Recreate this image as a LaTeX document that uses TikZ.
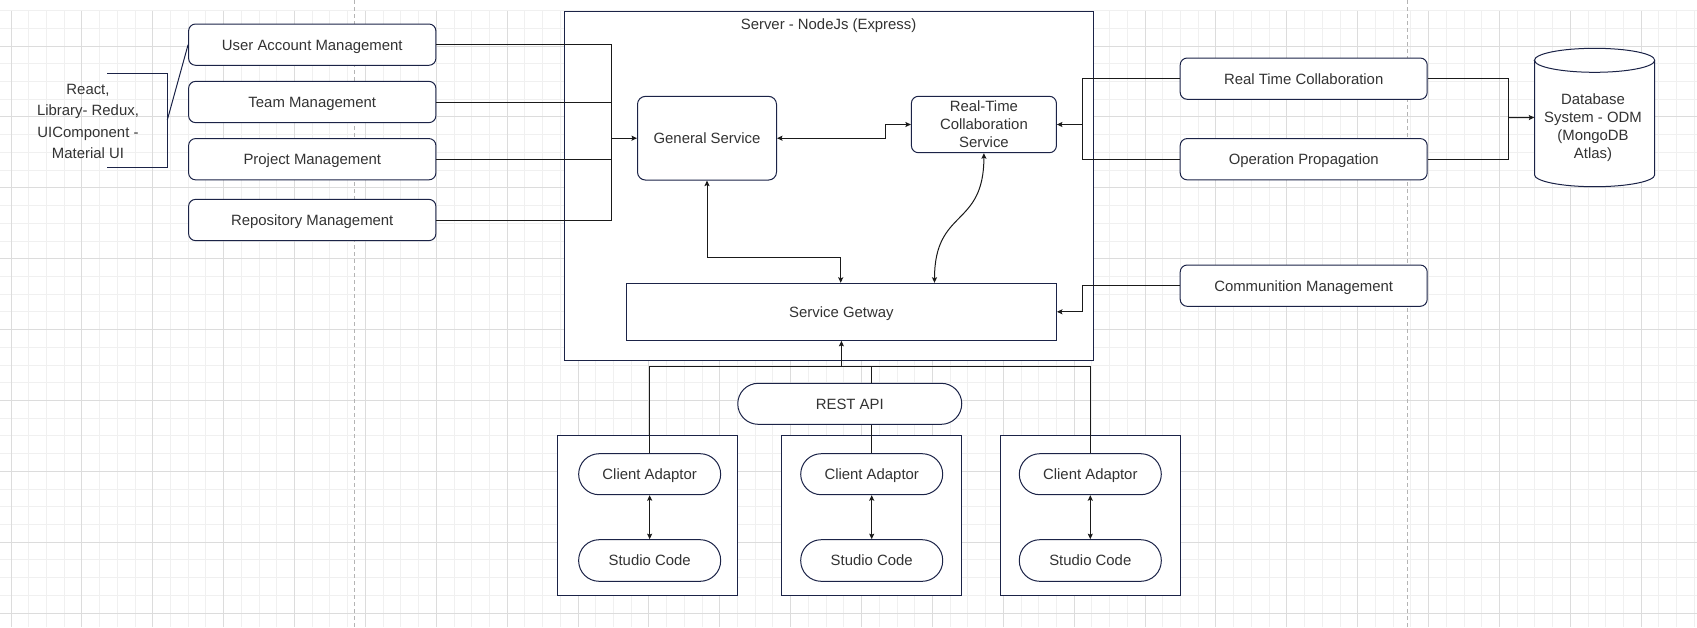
\documentclass[tikz,border=0pt]{standalone}
\usepackage{fontspec}
\setmainfont{Liberation Sans}
\usetikzlibrary{arrows.meta,calc}
\definecolor{navy}{HTML}{1B2347}
\definecolor{txt}{HTML}{333333}
\definecolor{edgec}{HTML}{1A1A1A}
\definecolor{gmin}{HTML}{F0F0F0}
\definecolor{gmaj}{HTML}{DCDCDC}
\definecolor{pgbrk}{HTML}{B4B4B4}
\begin{document}
\begin{tikzpicture}[x=1pt,y=-1pt,
  every node/.style={font=\fontsize{14.9}{18}\selectfont, text=txt},
  oneline/.style={text height=10.7pt, text depth=0pt},
  rbox/.style={draw=navy, line width=1pt, fill=white, rounded corners=7pt, inner sep=0pt, align=center},
  sbox/.style={draw=navy, line width=1pt, fill=white, inner sep=0pt, align=center},
  pill/.style={draw=navy, line width=1pt, fill=white, rounded corners=20.5pt, inner sep=0pt, minimum height=41pt, oneline},
  conn/.style={draw=edgec, line width=1pt},
  arr/.style={conn, -{Stealth[length=5.5pt,width=5pt,inset=1pt]}},
  darr/.style={conn, {Stealth[length=5.5pt,width=5pt,inset=1pt]}-{Stealth[length=5.5pt,width=5pt,inset=1pt]}},
  brk/.style={draw=navy, line width=1pt},
  minorgrid/.style={draw=gmin, line width=0.8pt},
  majorgrid/.style={draw=gmaj, line width=0.8pt},
  pagebreak/.style={draw=pgbrk, line width=0.8pt, dash pattern=on 4pt off 3pt}
]
\useasboundingbox (0,0) rectangle (1697,627);
\fill[white] (0,0) rectangle (1697,627);
% grid
\foreach \i in {0,...,34} \draw[minorgrid] (0,{10.56+17.72*\i}) -- (1697,{10.56+17.72*\i});
\foreach \i in {0,...,95} \draw[minorgrid] ({10.9+17.72*\i},10.56) -- ({10.9+17.72*\i},627);
\foreach \i in {0,...,8} \draw[majorgrid] (0,{46+70.88*\i}) -- (1697,{46+70.88*\i});
\foreach \i in {0,...,23} \draw[majorgrid] ({10.9+70.88*\i},10.56) -- ({10.9+70.88*\i},627);
\draw[pagebreak] (354.3,0) -- (354.3,627);
\draw[pagebreak] (1407.3,0) -- (1407.3,627);

% frames
\node[sbox, minimum width=528.2, minimum height=349.3, anchor=north west] (server) at (564.3,11) {};
\node[oneline] (title) at (828.6,24) {Server - NodeJs (Express)};
\node[sbox, minimum width=180.1, minimum height=160] (f1) at (647.35,515.3) {};
\node[sbox, minimum width=180.1, minimum height=160] (f2) at (871.65,515.3) {};
\node[sbox, minimum width=180.1, minimum height=160] (f3) at (1090.5,515.3) {};

% left
\node[rbox, oneline, minimum width=247.3, minimum height=41.3] (uam) at (312.25,44.65) {User Account Management};
\node[rbox, oneline, minimum width=247.3, minimum height=41.3] (team) at (312.25,102) {Team Management};
\node[rbox, oneline, minimum width=247.3, minimum height=41.3] (proj) at (312.25,159.2) {Project Management};
\node[rbox, oneline, minimum width=247.3, minimum height=41.3] (repo) at (312.25,220) {Repository Management};
\node[align=center, font=\fontsize{14.9}{21.3}\selectfont] (react) at (88,121.3) {React,\\Library- Redux,\\UIComponent -\\Material UI};
\coordinate (brt) at (107,73);
\coordinate (brm) at (167.3,120);
\coordinate (brb) at (107,167);
\draw[brk] (brt) -- (167.3,73) -- (167.3,167) -- (brb);
\draw[brk] (brm) -- (uam.west);

% server inner
\node[rbox, oneline, rounded corners=8pt, minimum width=139, minimum height=83.7] (gs) at (707,138.2) {General Service};
\node[rbox, minimum width=145, minimum height=56.4] (rtc) at (983.9,124.5) {Real-Time\\Collaboration\\Service};
\node[sbox, oneline, minimum width=430, minimum height=57] (gw) at (841.4,311.8) {Service Getway};

% right
\node[rbox, oneline, minimum width=247, minimum height=41.3] (rcol) at (1303.7,78.65) {Real Time Collaboration};
\node[rbox, oneline, minimum width=247, minimum height=41.3] (op) at (1303.7,159.2) {Operation Propagation};
\node[rbox, oneline, minimum width=247, minimum height=41.3] (comm) at (1303.7,285.65) {Communition Management};
\node[minimum width=120.2, minimum height=138.4, inner sep=0pt] (db) at (1594.6,117.5) {};
\draw[navy, line width=1pt, fill=white] (1534.5,60.3) -- (1534.5,174.7)
  arc[start angle=180, end angle=360, x radius=60.1pt, y radius=12pt] -- (1654.7,60.3)
  arc[start angle=0, end angle=180, x radius=60.1pt, y radius=12pt] -- cycle;
\draw[navy, line width=1pt] (1534.5,60.3) arc[start angle=180, end angle=360, x radius=60.1pt, y radius=12pt];
\node[align=center] (dbt) at (1593,128) {Database\\System - ODM\\(MongoDB\\Atlas)};

% bottom
\node[pill, minimum width=224] (rest) at (849.75,403.8) {REST API};
\node[pill, minimum width=142] (ca1) at (649.65,474.2) {Client Adaptor};
\node[pill, minimum width=142] (ca2) at (871.7,474.2) {Client Adaptor};
\node[pill, minimum width=142] (ca3) at (1090.3,474.2) {Client Adaptor};
\node[pill, minimum width=142, minimum height=41.6] (sc1) at (649.65,560.5) {Studio Code};
\node[pill, minimum width=142, minimum height=41.6] (sc2) at (871.7,560.5) {Studio Code};
\node[pill, minimum width=142, minimum height=41.6] (sc3) at (1090.3,560.5) {Studio Code};

% junctions
\coordinate (jL) at (611,138.2);
\coordinate (jGS) at (885.7,138.2);
\coordinate (jG) at (840.7,257.3);
\coordinate (jR) at (1082,124.5);
\coordinate (jC) at (1082,311.8);
\coordinate (jD) at (1508.5,117.7);
\coordinate (jB) at (841.4,366.3);

% edges left
\draw[conn] (uam.east) -| (jL);
\draw[conn] (team.east) -| (jL);
\draw[conn] (proj.east) -| (jL);
\draw[conn] (repo.east) -| (jL);
\draw[arr] (jL) -- (gs.west);

% server edges
\draw[darr] (gs.east) -- (jGS) |- (rtc.west);
\draw[darr] (gs.south) |- (jG) -- (jG |- gw.north);
\draw[darr] (rtc.south) .. controls +(0,75) and +(0,-75) .. ($(gw.north west)!0.716!(gw.north east)$);

% right edges
\draw[conn] (rcol.west) -| (jR);
\draw[conn] (op.west) -| (jR);
\draw[arr] (jR) -- (rtc.east);
\draw[arr] (comm.west) -| (jC) -- (gw.east);
\draw[conn] (rcol.east) -| (jD);
\draw[conn] (op.east) -| (jD);
\draw[arr] (jD) -- (db.west);

% bottom edges
\draw[conn] (ca1.north) |- (jB);
\draw[conn] (ca3.north) |- (jB);
\draw[conn] (ca2.north |- rest.north) |- (jB);
\draw[arr, line width=1.6pt] (jB) -- (gw.south);
\draw[conn] (ca2.north) -- (ca2.north |- rest.south);
\draw[darr] (ca1.south) -- (sc1.north);
\draw[darr] (ca2.south) -- (sc2.north);
\draw[darr] (ca3.south) -- (sc3.north);
\end{tikzpicture}
\end{document}
